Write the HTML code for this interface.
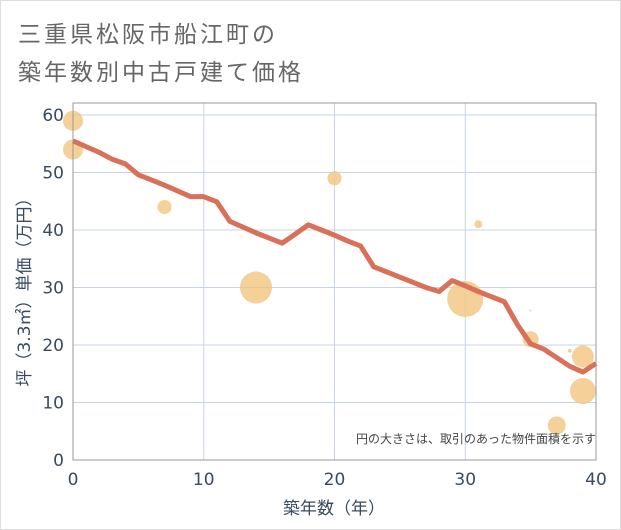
<!DOCTYPE html>
<html><head><meta charset="utf-8"><style>
body{margin:0;background:#fff;}
svg{display:block;font-family:"DejaVu Sans","Noto Sans CJK JP",sans-serif;}
</style></head><body>
<svg id="chart" width="621" height="530">
<rect x="0.5" y="0.5" width="620" height="529" fill="#fff" stroke="#ddd"/>
<text x="18" y="42" font-size="23" letter-spacing="3" fill="#666">三重県松阪市船江町の</text>
<text x="18" y="80" font-size="23" letter-spacing="3" fill="#666">築年数別中古戸建て価格</text>
<g id="grid"></g>
<g id="bubbles"></g>
<g id="line"></g>
<g id="axes"></g>
<text x="596" y="443" font-size="12" fill="#444" text-anchor="end">円の大きさは、取引のあった物件面積を示す</text>
<text x="334" y="514" font-size="17" fill="#3a4a5e" text-anchor="middle">築年数（年）</text>
<text transform="translate(30,288) rotate(-90)" font-size="17" fill="#3a4a5e" text-anchor="middle">坪（3.3㎡）単価（万円）</text>
</svg>
<script>
const xTicks=[0,10,20,30,40];
const yTicks=[0,10,20,30,40,50,60];
const lineYears=[0,1,2,3,4,5,6,7,8,9,10,11,12,13,14,15,16,17,18,19,20,21,22,23,24,25,26,27,28,29,30,31,32,33,34,35,36,37,38,39,40];
const lineValues=[55.5,54.5,53.5,52.3,51.5,49.6,48.7,47.8,46.8,45.8,45.8,44.9,41.5,40.5,39.5,38.6,37.7,39.3,40.9,40,39.1,38.1,37.2,33.6,32.7,31.8,30.9,30,29.3,31.2,30.3,29.3,28.4,27.5,23.5,20.2,19.3,17.8,16.3,15.3,16.8];
const bubbleYears=[0,0,7,14,20,30,31,35,35,38,39,39,37];
const bubbleValues=[59,54,44,30,49,28,41,21,26,19,18,12,6];
const bubbleSizes=[10,10,7,16,7,18,4,8,1,2,11,13,9];
const X0=73,X1=596,Y0=460,Y1=115;
const sx=v=>X0+(v-0)/(40)*(X1-X0);
const sy=v=>Y0-(v/60)*(Y0-Y1);
const NS="http://www.w3.org/2000/svg";
function mk(tag,parent,attrs){const e=document.createElementNS(NS,tag);for(const k in attrs)e.setAttribute(k,attrs[k]);document.getElementById(parent).appendChild(e);return e;}
xTicks.forEach(t=>{
 const l=mk('line','grid',{x1:sx(t),x2:sx(t),y1:103,y2:Y0,stroke:'#c8d4e3','stroke-width':1});
 
 
 const tx=mk('text','axes',{x:sx(t),y:485,'font-size':17,fill:'#3a4a5e','text-anchor':'middle'});
 tx.textContent=t;
 
 
});
yTicks.forEach(t=>{
 const l=mk('line','grid',{x1:X0,x2:X1,y1:sy(t),y2:sy(t),stroke:'#c8d4e3','stroke-width':1});
 
 
 const tx=mk('text','axes',{x:64,y:sy(t)+6,'font-size':17,fill:'#3a4a5e','text-anchor':'end'});
 tx.textContent=t;
 
 
});
const fr=mk('rect','axes',{x:X0,y:103,width:X1-X0,height:Y0-103,fill:'none',stroke:'#999','stroke-width':1});


bubbleYears.forEach((y,i)=>{
 const c=mk('circle','bubbles',{cx:sx(y),cy:sy(bubbleValues[i]),r:bubbleSizes[i],fill:'#f3c57f','fill-opacity':0.8});
 
 
});
const pts=lineYears.map((y,i)=>sx(y)+','+sy(lineValues[i])).join(' ');
const pl=mk('polyline','line',{points:pts,fill:'none',stroke:'#d9705a','stroke-width':5,'stroke-linejoin':'round'});


</script>
</body></html>
